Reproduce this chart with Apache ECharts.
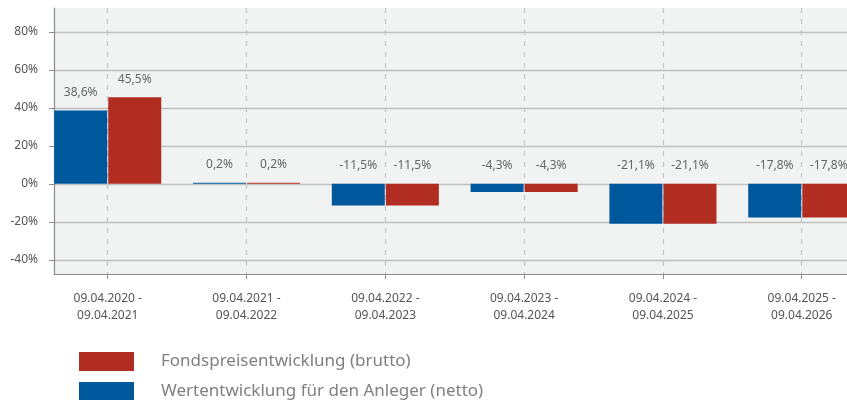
<!DOCTYPE html>
<html>
<head>
    <meta charset="utf-8">
    <title>Wertentwicklung</title>
    <script src="https://cdn.jsdelivr.net/npm/echarts@6/dist/echarts.min.js"></script>
    <style>
        html, body { margin: 0; padding: 0; background: #fff; }
    </style>
</head>
<body>
    <div id="main" style="width:847px; height:400px;"></div>

    <script type="text/javascript">

        var categories = [
            '09.04.2020 -\n09.04.2021',
            '09.04.2021 -\n09.04.2022',
            '09.04.2022 -\n09.04.2023',
            '09.04.2023 -\n09.04.2024',
            '09.04.2024 -\n09.04.2025',
            '09.04.2025 -\n09.04.2026'
        ];
        var netto = [38.6, 0.2, -11.5, -4.3, -21.1, -17.8];
        var brutto = [45.5, 0.2, -11.5, -4.3, -21.1, -17.8];
        var yTicks = [-40, -20, 0, 20, 40, 60, 80];

        var nameBrutto = 'Fondspreisentwicklung (brutto)';
        var nameNetto = 'Wertentwicklung für den Anleger (netto)';

        function toPoints(arr) {
            return arr.map(function(v, i) { return [i, v]; });
        }

        function pct(p) {
            return p.value[1].toFixed(1).replace('.', ',') + '%';
        }

        var labelStyle = {
            show: true,
            position: 'top',
            distance: 12,
            color: '#666',
            fontSize: 12,
            fontFamily: 'Noto Sans',
            formatter: pct
        };

        // one legend per entry, stacked by hand
        function legendEntry(name, top) {
            return {
                orient: 'vertical',
                left: 79,
                top: top,
                padding: 0,
                itemWidth: 55,
                itemHeight: 19,
                icon: 'rect',
                data: [name],
                textStyle: {
                    color: '#808080',
                    fontSize: 17,
                    padding: [0, 0, 0, 22]
                }
            };
        }

        var myChart = echarts.init(document.getElementById('main'));

        myChart.setOption({
            animation: false,
            textStyle: { fontFamily: 'Noto Sans' },
            grid: {
                left: 54,
                right: 0,
                top: 8,
                bottom: 126,
                show: true,
                backgroundColor: '#f1f2f2',
                borderWidth: 0
            },
            legend: [
                legendEntry(nameBrutto, 352),
                legendEntry(nameNetto, 382)
            ],
            xAxis: {
                type: 'value',
                min: -0.387,
                max: 5.326,
                axisLine: { show: true, onZero: false, lineStyle: { color: '#8c8c8c', width: 1.2 } },
                axisTick: { show: true, length: 5, customValues: [0, 1, 2, 3, 4, 5], lineStyle: { color: '#8c8c8c' } },
                axisLabel: {
                    customValues: [0, 1, 2, 3, 4, 5],
                    margin: 16,
                    color: '#555',
                    fontSize: 12,
                    lineHeight: 17,
                    formatter: function(v) { return categories[Math.round(v)]; }
                },
                splitLine: {
                    show: true,
                    lineStyle: { color: '#c6c6c6', type: [5, 6], width: 1.2 }
                }
            },
            yAxis: {
                type: 'value',
                min: -47.5,
                max: 92.5,
                axisLine: { show: true, onZero: false, lineStyle: { color: '#8c8c8c', width: 1.2 } },
                axisTick: { show: true, length: 5, customValues: yTicks, lineStyle: { color: '#8c8c8c' } },
                axisLabel: {
                    customValues: yTicks,
                    margin: 16,
                    color: '#555',
                    fontSize: 12,
                    formatter: function(v) { return v + '%'; }
                },
                splitLine: {
                    show: true,
                    lineStyle: { color: '#c0c0c0', width: 1.4 }
                }
            },
            series: [
                {
                    name: nameNetto,
                    type: 'bar',
                    data: toPoints(netto),
                    barWidth: 53,
                    barGap: '2%',
                    barMinHeight: 1,
                    itemStyle: { color: '#00589c' },
                    label: labelStyle
                },
                {
                    name: nameBrutto,
                    type: 'bar',
                    data: toPoints(brutto),
                    barWidth: 53,
                    barGap: '2%',
                    barMinHeight: 1,
                    itemStyle: { color: '#b22d21' },
                    label: labelStyle
                }
            ]
        });
    </script>
</body>
</html>
